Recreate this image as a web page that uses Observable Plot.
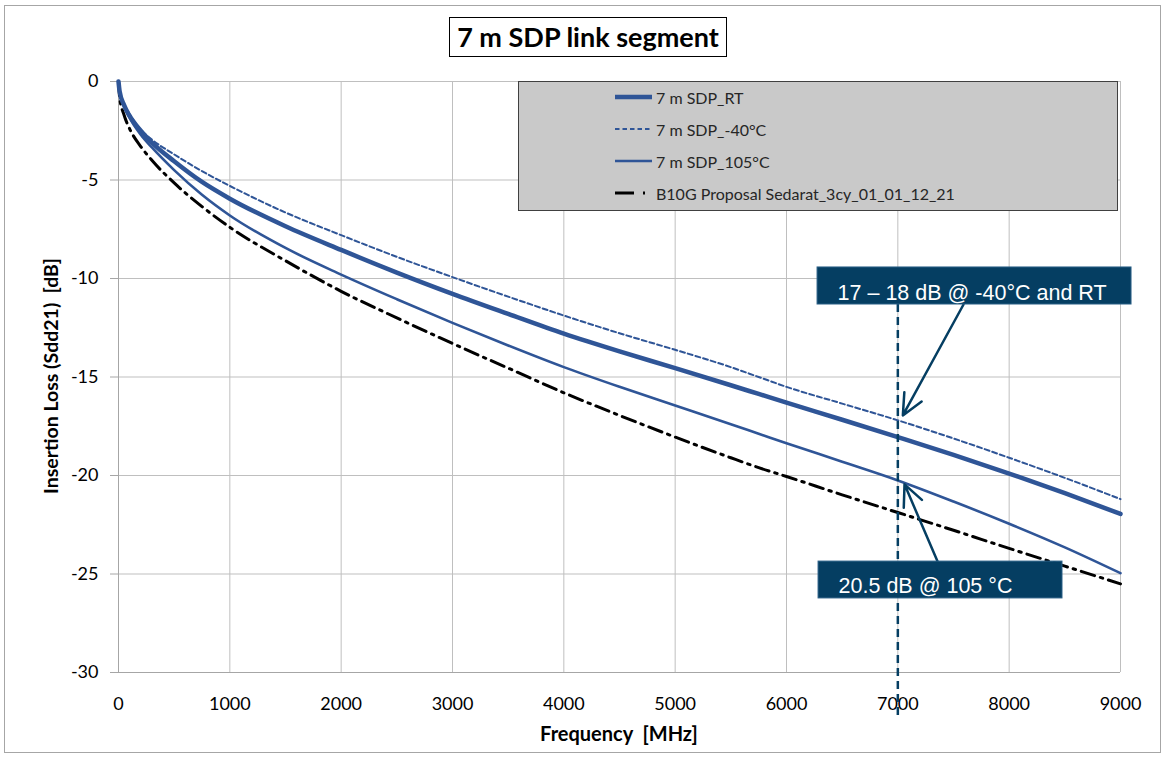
<!DOCTYPE html>
<html><head><meta charset="utf-8">
<script src="https://cdn.jsdelivr.net/npm/d3@7"></script>
<script src="https://cdn.jsdelivr.net/npm/@observablehq/plot@0.6"></script>
<style>
body{margin:0;background:#fff;}
#wrap{position:relative;width:1166px;height:758px;overflow:hidden;font-family:Lato,"Noto Sans",sans-serif;background:#fff;}
#frame{position:absolute;left:4px;top:5px;width:1157px;height:748px;border:1px solid #a6a6a6;box-sizing:border-box;}
#chart{position:absolute;left:0;top:0;}
#title{position:absolute;left:449px;top:17px;width:278px;height:40px;border:1.5px solid #000;box-sizing:border-box;background:#fff;font-weight:bold;font-size:27px;line-height:37px;text-align:center;color:#000;white-space:nowrap;}
#legend{position:absolute;left:518px;top:81px;width:600px;height:130px;background:#c9c9c9;border:1.5px solid #404040;box-sizing:border-box;}
.lrow{position:absolute;left:96px;height:20px;display:flex;align-items:center;font-size:16px;color:#262626;white-space:nowrap;}
.lrow svg{margin-right:2px;}
#ylabel{position:absolute;left:50px;top:376px;transform:translate(-50%,-50%) rotate(-90deg);white-space:pre;font-weight:bold;font-size:19.5px;color:#000;}
#xlabel{position:absolute;left:619px;top:733px;transform:translate(-50%,-50%);white-space:pre;font-weight:bold;font-size:20px;color:#000;}
</style></head><body>
<div id="wrap">
  <div id="frame"></div>
  <div id="chart"></div>
  <div id="title">7 m SDP link segment</div>
  <div id="legend"></div>
  <div id="ylabel">Insertion Loss (Sdd21)  [dB]</div>
  <div id="xlabel">Frequency  [MHz]</div>
</div>
<script>
// Frequency grid (MHz)
const freqMHz = [0, 10, 50, 100, 200, 300, 500, 750, 1000, 1500, 2000, 2500, 3000, 3500, 4000, 4500, 5000, 5500, 5750, 6000, 6500, 7000, 7500, 8000, 8500, 9000];
// Insertion loss (dB) per series
const sdpRT    = [0, -0.5, -1.2, -1.75, -2.5, -3.1, -4.05, -5.1, -5.95, -7.35, -8.55, -9.7, -10.78, -11.8, -12.8, -13.7, -14.55, -15.42, -15.86, -16.3, -17.17, -18.05, -18.95, -19.9, -20.9, -21.95];
const sdpM40   = [0, -0.5, -1.15, -1.65, -2.45, -2.95, -3.7, -4.55, -5.3, -6.65, -7.8, -8.9, -9.93, -10.92, -11.88, -12.78, -13.62, -14.5, -15.0, -15.5, -16.35, -17.2, -18.12, -19.1, -20.12, -21.2];
const sdp105   = [0, -0.5, -1.25, -1.85, -2.7, -3.35, -4.5, -5.75, -6.8, -8.45, -9.8, -11.05, -12.25, -13.4, -14.5, -15.5, -16.45, -17.4, -17.88, -18.36, -19.3, -20.25, -21.32, -22.45, -23.65, -24.96];
const b10g     = [0, -0.8, -1.7, -2.4, -3.3, -4.0, -5.15, -6.35, -7.4, -9.1, -10.65, -12.0, -13.3, -14.55, -15.8, -16.95, -18.05, -19.1, -19.6, -20.05, -20.98, -21.88, -22.78, -23.7, -24.6, -25.5];

const seriesNames = ["7 m SDP_RT", "7 m SDP_-40°C", "7 m SDP_105°C", "B10G Proposal Sedarat_3cy_01_01_12_21"];
const xTicks = [0, 1000, 2000, 3000, 4000, 5000, 6000, 7000, 8000, 9000];
const yTicks = [0, -5, -10, -15, -20, -25, -30];

// Annotations (data coordinates)
const markerFreq = 7000;
const annoLabels = ["17 – 18 dB @ -40°C and RT", "20.5 dB @ 105 °C"];
const annoBoxes = [
  {x1: 6279, x2: 9099, y1: -9.44, y2: -11.32, ty: -10.72, label: annoLabels[0]},
  {x1: 6288, x2: 8479, y1: -24.37, y2: -26.24, ty: -25.62, label: annoLabels[1]}
];
const annoArrows = [
  {x1: 7590, y1: -11.32, x2: 7045, y2: -16.95},
  {x1: 7357, y1: -24.37, x2: 7060, y2: -20.45}
];

const BLUE = "#2f5597";
const NAVY = "#053e62";

const toRows = vals => freqMHz.map((f, i) => ({f, v: vals[i]}));

const plot = Plot.plot({
  width: 1166, height: 758,
  marginLeft: 118, marginRight: 46, marginTop: 81, marginBottom: 86,
  style: {fontFamily: "Lato, 'Noto Sans', sans-serif", fontSize: "17px", color: "#000", background: "transparent"},
  x: {domain: [0, 9000], label: null},
  y: {domain: [-30, 0], label: null},
  marks: [
    Plot.gridX(xTicks.slice(1), {stroke: "#bfbfbf", strokeOpacity: 1, strokeWidth: 1}),
    Plot.gridY(yTicks, {stroke: "#bfbfbf", strokeOpacity: 1, strokeWidth: 1}),
    Plot.ruleX([0], {stroke: "#a6a6a6", strokeWidth: 1}),
    Plot.ruleY([-30], {stroke: "#a6a6a6", strokeWidth: 1}),
    Plot.axisY({ticks: yTicks, tickSize: 8, tickPadding: 12, stroke: "#a6a6a6", fontSize: 18, tickFormat: d => String(d)}),
    Plot.axisX({ticks: xTicks, tickSize: 0, tickPadding: 25, fontSize: 18, tickFormat: d => String(d)}),
    Plot.line(toRows(b10g), {x: "f", y: "v", stroke: "#000", strokeWidth: 3, strokeDasharray: "14,6,2.5,6", curve: "monotone-x"}),
    Plot.line(toRows(sdp105), {x: "f", y: "v", stroke: BLUE, strokeWidth: 2.6, curve: "monotone-x"}),
    Plot.line(toRows(sdpRT), {x: "f", y: "v", stroke: BLUE, strokeWidth: 4.5, curve: "monotone-x"}),
    Plot.line(toRows(sdpM40), {x: "f", y: "v", stroke: BLUE, strokeWidth: 2, strokeDasharray: "5,3", curve: "monotone-x"}),
    Plot.ruleX([markerFreq], {y1: -11.32, y2: -32.3, stroke: NAVY, strokeWidth: 2.5, strokeDasharray: "8,5"}),
    Plot.arrow(annoArrows, {x1: "x1", y1: "y1", x2: "x2", y2: "y2", stroke: NAVY, strokeWidth: 2.5, headLength: 14, headAngle: 50}),
    Plot.rect(annoBoxes, {x1: "x1", x2: "x2", y1: "y1", y2: "y2", fill: NAVY, stroke: "#2a5f86", strokeWidth: 1}),
    Plot.text(annoBoxes, {x: "x1", y: "ty", text: "label", textAnchor: "start", dx: 20, fill: "#fff", fontSize: 21.5, fontFamily: "'Liberation Sans', Arial, sans-serif"})
  ]
});
document.getElementById("chart").appendChild(plot);

// Legend
const legend = document.getElementById("legend");
const rowTops = [5, 37, 69, 101];
const swatches = [
  '<line x1="0" y1="10" x2="37" y2="10" stroke="' + BLUE + '" stroke-width="4.5"/>',
  '<line x1="0" y1="10" x2="37" y2="10" stroke="' + BLUE + '" stroke-width="2" stroke-dasharray="4.5,3"/>',
  '<line x1="0" y1="10" x2="37" y2="10" stroke="' + BLUE + '" stroke-width="2.6"/>',
  '<line x1="0" y1="10" x2="19" y2="10" stroke="#000" stroke-width="3"/><line x1="28" y1="10" x2="30" y2="10" stroke="#000" stroke-width="3"/>'
];
seriesNames.forEach((name, i) => {
  const row = document.createElement("div");
  row.className = "lrow";
  row.style.top = rowTops[i] + "px";
  row.innerHTML = '<svg width="39" height="20">' + swatches[i] + '</svg><span>' + name + '</span>';
  legend.appendChild(row);
});
</script>
</body></html>
